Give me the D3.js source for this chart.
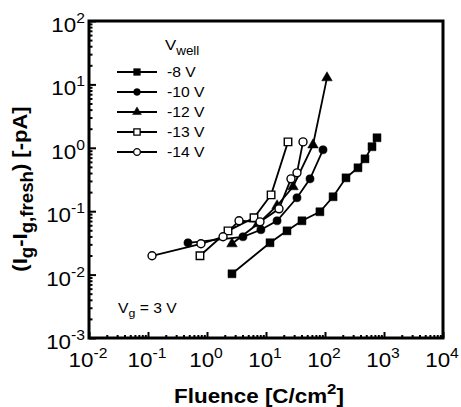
<!DOCTYPE html>
<html><head><meta charset="utf-8">
<script src="https://cdn.jsdelivr.net/npm/d3@7"></script>
<style>body{margin:0;background:#fff}svg{display:block}text{font-family:"Liberation Sans",Arial,Helvetica,sans-serif;fill:#000}</style>
</head><body>
<script>
// ---- data ----
const seriesNames = ["-8 V","-10 V","-12 V","-13 V","-14 V"];
const fluence8  = [2.65, 11.7, 22.7, 40.7, 82, 137, 227, 362, 476, 626, 761];
const current8  = [0.0103, 0.0318, 0.049, 0.0706, 0.098, 0.169, 0.336, 0.484, 0.67, 1.04, 1.44];
const fluence10 = [0.476, 4.07, 8.2, 15.4, 33.5, 55.7, 92.5];
const current10 = [0.0317, 0.0395, 0.051, 0.0706, 0.163, 0.324, 0.93];
const fluence12 = [2.65, 7.3, 15.4, 28.7, 62.6, 108];
const current12 = [0.0306, 0.0633, 0.122, 0.243, 1.11, 12.7];
const fluence13 = [0.76, 2.27, 6.26, 12.2, 23.6];
const current13 = [0.0198, 0.049, 0.0787, 0.181, 1.24];
const fluence14 = [0.117, 0.79, 1.87, 3.49, 7.91, 16.6, 26.5, 33.5, 42.4];
const current14 = [0.0198, 0.0306, 0.0395, 0.0706, 0.068, 0.109, 0.324, 0.403, 1.24];
const xTickExps = [-2,-1,0,1,2,3,4];
const yTickExps = [-3,-2,-1,0,1,2];

const W=461,H=407, SX=1.12;
const svg=d3.select("body").append("svg").attr("width",W).attr("height",H);
const x=d3.scaleLog().domain([1e-2,1e4]).range([89,443]);
const y=d3.scaleLog().domain([1e-3,1e2]).range([338,21]);

function label(px,py,anchor,size,weight,parts,rot,scl){
  const sc=scl||(rot?[1,SX]:[SX,1]);
  const g=svg.append("g").attr("transform",`translate(${px},${py})`+(rot?` rotate(${rot})`:"")+` scale(${sc[0]},${sc[1]})`);
  const t=g.append("text").attr("text-anchor",anchor).attr("font-size",size).attr("font-weight",weight||"normal");
  let shift=0;
  parts.forEach(p=>{
    const s=t.append("tspan").text(p.t);
    let target=0;
    if(p.sup){s.attr("font-size",p.fs||size*0.7);target=-size*0.45;}
    else if(p.sub){s.attr("font-size",p.fs||size*0.7);target=size*0.3;}
    s.attr("dy",target-shift); shift=target;
  });
  return t;
}

// minor ticks
const minors=[];
for(let e=-3;e<2;e++)for(let k=2;k<10;k++)minors.push(k*Math.pow(10,e));
const xminors=[];
for(let e=-2;e<4;e++)for(let k=2;k<10;k++)xminors.push(k*Math.pow(10,e));

// axes via d3 axis with inward ticks
const yAxis=d3.axisRight(y).tickValues(yTickExps.map(e=>Math.pow(10,e))).tickSize(7).tickFormat("");
const yMinor=d3.axisRight(y).tickValues(minors).tickSize(3.5).tickFormat("");
const xAxis=d3.axisTop(x).tickValues(xTickExps.map(e=>Math.pow(10,e))).tickSize(6).tickFormat("");
const xMinor=d3.axisTop(x).tickValues(xminors).tickSize(3).tickFormat("");
[[yAxis,`translate(89,0)`],[yMinor,`translate(89,0)`],[xAxis,`translate(0,338)`],[xMinor,`translate(0,338)`]].forEach(([a,t])=>{
  const g=svg.append("g").attr("transform",t).call(a);
  g.select(".domain").remove();
  g.selectAll("line").attr("stroke","#000").attr("stroke-width",2);
});
// frame
svg.append("rect").attr("x",x(1e-2)).attr("y",y(1e2)).attr("width",x(1e4)-x(1e-2)).attr("height",y(1e-3)-y(1e2))
  .attr("fill","none").attr("stroke","#000").attr("stroke-width",3);

// tick labels
yTickExps.forEach(e=>label(85,y(Math.pow(10,e))+11,"end",20,"normal",[{t:"10"},{t:String(e),sup:true,fs:14}]));
xTickExps.forEach(e=>label(x(Math.pow(10,e))-1,367,"middle",20,"normal",[{t:"10"},{t:String(e),sup:true,fs:14}]));

// axis titles
label(259,403,"middle",20,"bold",[{t:"Fluence [C/cm"},{t:"2",sup:true,fs:15},{t:"]"}]);
label(27,189,"middle",20,"bold",[{t:"(I"},{t:"g",sub:true,fs:17},{t:"-I"},{t:"g,fresh",sub:true,fs:17},{t:") [-pA]"}],-90,[1.1,1.05]);

// series
const series=[
  {f:fluence8,c:current8,sym:d3.symbolSquare,size:64,fill:"#000"},
  {f:fluence10,c:current10,sym:d3.symbolCircle,size:52,fill:"#000"},
  {f:fluence12,c:current12,sym:d3.symbolTriangle,size:48,fill:"#000"},
  {f:fluence13,c:current13,sym:d3.symbolSquare,size:56,fill:"#fff"},
  {f:fluence14,c:current14,sym:d3.symbolCircle,size:50,fill:"#fff"}
];
const line=d3.line().x(d=>x(d[0])).y(d=>y(d[1]));
series.forEach(s=>{
  const pts=s.f.map((v,i)=>[v,s.c[i]]);
  svg.append("path").attr("d",line(pts)).attr("fill","none").attr("stroke","#000").attr("stroke-width",1.8);
});
series.forEach(s=>{
  const pts=s.f.map((v,i)=>[v,s.c[i]]);
  svg.append("g").selectAll("path").data(pts).join("path")
    .attr("transform",d=>`translate(${x(d[0])},${y(d[1])})`)
    .attr("d",d3.symbol().type(s.sym).size(s.size))
    .attr("fill",s.fill).attr("stroke","#000").attr("stroke-width",s.fill==="#fff"?1.4:0.5);
});

// legend
label(165,50,"start",15,"normal",[{t:"V"},{t:"well",sub:true,fs:12}]);
series.forEach((s,i)=>{
  const ly=72+i*20;
  svg.append("line").attr("x1",117).attr("x2",157).attr("y1",ly).attr("y2",ly).attr("stroke","#000").attr("stroke-width",1.8);
  svg.append("path").attr("transform",`translate(137,${ly})`).attr("d",d3.symbol().type(s.sym).size(s.size*0.7))
    .attr("fill",s.fill).attr("stroke","#000").attr("stroke-width",s.fill==="#fff"?1.3:0.5);
  label(167,ly+5,"start",14,"normal",[{t:seriesNames[i]}]);
});

// annotation
label(118,313,"start",14,"normal",[{t:"V"},{t:"g",sub:true,fs:11},{t:" = 3 V"}]);
</script>
</body></html>
